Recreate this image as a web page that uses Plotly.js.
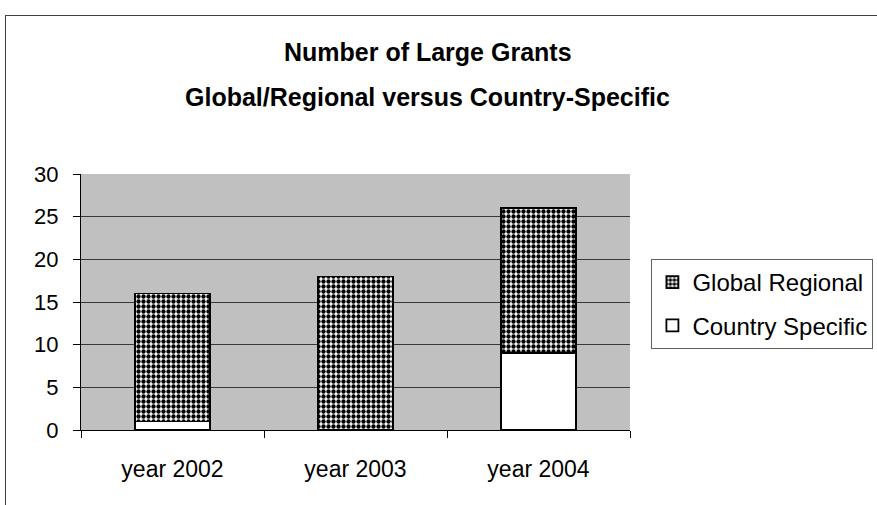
<!DOCTYPE html>
<html>
<head>
<meta charset="utf-8">
<script src="https://cdn.plot.ly/plotly-3.0.1.min.js"></script>
<style>
html,body{margin:0;padding:0;background:#fff;overflow:hidden;}
#wrap{position:relative;width:877px;height:505px;overflow:hidden;}
#chart{position:absolute;left:0;top:0;width:877px;height:505px;}
#frame{position:absolute;left:5px;top:15px;width:900px;height:600px;border:1px solid #404040;pointer-events:none;}
</style>
</head>
<body>
<div id="wrap"><div id="chart"></div><div id="frame"></div></div>
<script>
const categories = ['year 2002', 'year 2003', 'year 2004'];
const countrySpecific = [1, 0, 9];
const globalRegional = [15, 18, 17];
const yTicks = [0, 5, 10, 15, 20, 25, 30];
const titleLines = ['Number of Large Grants', 'Global/Regional versus Country-Specific'];

const FONT = 'Liberation Sans, Arial, sans-serif';

const traces = [
  {
    type: 'bar', name: 'Country Specific', x: categories, y: countrySpecific,
    legendgroup: 'c', legendrank: 2,
    marker: {color: '#ffffff', line: {color: '#000', width: 1.8}},
    hoverinfo: 'skip'
  },
  {
    type: 'bar', name: 'Global Regional', x: categories, y: globalRegional,
    legendgroup: 'g', legendrank: 1,
    marker: {color: '#ffffff', line: {color: '#000', width: 1.8},
      pattern: {shape: '.', fgcolor: '#000', bgcolor: '#fff', size: 5, solidity: 0.6, fillmode: 'replace'}},
    hoverinfo: 'skip'
  }
];

const layout = {
  width: 877, height: 505,
  margin: {l: 81, r: 247, t: 174, b: 75, pad: 0, autoexpand: false},
  paper_bgcolor: '#ffffff',
  plot_bgcolor: '#c0c0c0',
  barmode: 'stack',
  bargap: 0.59,
  showlegend: true,
  font: {family: FONT, size: 21, color: '#000'},
  xaxis: {
    type: 'category',
    showline: true, linecolor: '#000', linewidth: 1,
    ticks: 'outside', ticklen: 7, tickcolor: '#000', tickwidth: 1,
    tickson: 'boundaries',
    ticklabelstandoff: 18,
    showgrid: false, zeroline: false,
    tickfont: {family: FONT, size: 23, color: '#000'},
    fixedrange: true
  },
  yaxis: {
    range: [0, 30],
    tickvals: yTicks,
    ticktext: yTicks.map(String),
    showline: true, linecolor: '#000', linewidth: 1,
    ticks: 'outside', ticklen: 7, tickcolor: '#000', tickwidth: 1,
    ticklabelstandoff: 10,
    showgrid: true, gridcolor: '#383838', gridwidth: 1,
    zeroline: false,
    tickfont: {family: FONT, size: 22, color: '#000'},
    fixedrange: true
  },
  legend: {
    x: 1.039, xanchor: 'left', y: 0.668, yanchor: 'top',
    bgcolor: '#ffffff', bordercolor: '#606060', borderwidth: 1,
    traceorder: 'grouped', tracegroupgap: 9,
    font: {family: FONT, size: 24, color: '#000'},
    itemwidth: 30
  },
  annotations: [
    {text: '<b>' + titleLines[0] + '</b>', xref: 'paper', yref: 'paper', x: 0.632, y: 1.4766,
     xanchor: 'center', yanchor: 'middle', showarrow: false, font: {family: FONT, size: 25, color: '#000'}},
    {text: '<b>' + titleLines[1] + '</b>', xref: 'paper', yref: 'paper', x: 0.632, y: 1.3008,
     xanchor: 'center', yanchor: 'middle', showarrow: false, font: {family: FONT, size: 25, color: '#000'}}
  ]
};

Plotly.newPlot('chart', traces, layout, {displayModeBar: false, staticPlot: true});
</script>
</body>
</html>
